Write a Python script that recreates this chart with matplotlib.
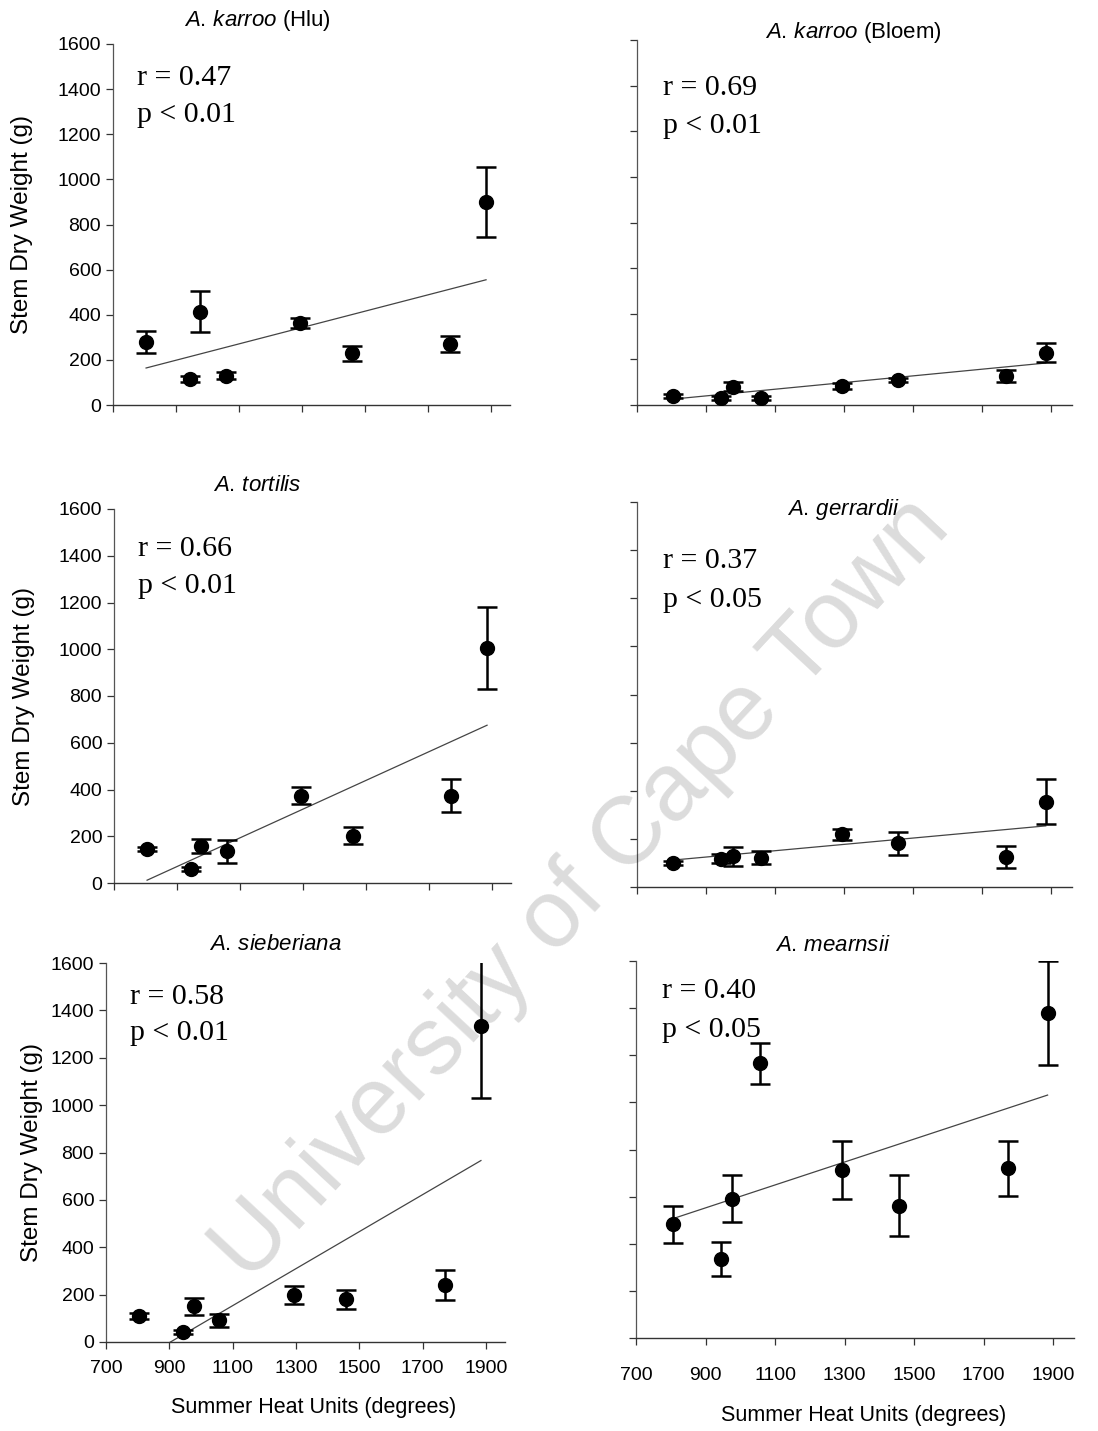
import matplotlib
matplotlib.use("Agg")
import matplotlib.pyplot as plt
import numpy as np

plt.rcParams["font.family"] = ["Liberation Sans", "DejaVu Sans"]
plt.rcParams["mathtext.fontset"] = "custom"
plt.rcParams["mathtext.rm"] = "Liberation Sans"
plt.rcParams["mathtext.it"] = "Liberation Sans:italic"

# Summer heat units of the sites (x values shared by all species)
heat_units = [805, 944, 977, 1058, 1294, 1457, 1770, 1884]

# Stem dry weight (g): mean and error per site, fitted line at first/last site
karroo_hlu_mean = [280, 115, 413, 130, 364, 230, 270, 900]
karroo_hlu_err = [48, 15, 91, 15, 22, 33, 37, 155]
karroo_hlu_fit = [164, 555]

karroo_bloem_mean = [40, 31, 80, 30, 83, 110, 127, 230]
karroo_bloem_err = [8, 10, 20, 10, 15, 8, 25, 40]
karroo_bloem_fit = [26, 184]

tortilis_mean = [145, 60, 160, 135, 374, 203, 374, 1006]
tortilis_err = [10, 10, 30, 48, 38, 38, 69, 175]
tortilis_fit = [12, 675]

gerrardii_mean = [100, 118, 128, 122, 220, 182, 125, 355]
gerrardii_err = [8, 20, 40, 26, 23, 48, 47, 95]
gerrardii_fit = [112, 254]

sieberiana_mean = [110, 42, 151, 91, 197, 180, 239, 1333]
sieberiana_err = [12, 8, 35, 28, 38, 40, 63, 303]
sieberiana_fit = [-77, 766]

mearnsii_mean = [482, 335, 592, 1165, 713, 562, 720, 1380]
mearnsii_err = [80, 73, 98, 85, 123, 130, 118, 222]
mearnsii_fit = [506, 1031]

titles = [
    r"$\mathit{A.\,karroo}$ (Hlu)",
    r"$\mathit{A.\,karroo}$ (Bloem)",
    r"$\mathit{A.\,tortilis}$",
    r"$\mathit{A.\,gerrardii}$",
    r"$\mathit{A.\,sieberiana}$",
    r"$\mathit{A.\,mearnsii}$",
]
r_values = ["0.47", "0.69", "0.66", "0.37", "0.58", "0.40"]
p_values = ["0.01", "0.01", "0.01", "0.05", "0.01", "0.05"]

means = [karroo_hlu_mean, karroo_bloem_mean, tortilis_mean,
         gerrardii_mean, sieberiana_mean, mearnsii_mean]
errs = [karroo_hlu_err, karroo_bloem_err, tortilis_err,
        gerrardii_err, sieberiana_err, mearnsii_err]
fits = [karroo_hlu_fit, karroo_bloem_fit, tortilis_fit,
        gerrardii_fit, sieberiana_fit, mearnsii_fit]

x_ticks = [700, 900, 1100, 1300, 1500, 1700, 1900]
y_ticks = [0, 200, 400, 600, 800, 1000, 1200, 1400, 1600]

# Layout (pixels of a 1098x1431 figure): left, right, top, bottom of each axes
W, H = 1098, 1431
boxes_px = [
    (113, 510, 44, 405),
    (637, 1072, 40, 405),
    (114, 511, 509, 883),
    (637, 1072, 502, 887),
    (106, 505, 963, 1342),
    (636, 1074, 961, 1338),
]
title_pos = [(0.365, 1.066), (0.497, 1.02), (0.36, 1.064), (0.474, 0.98),
             (0.425, 1.048), (0.45, 1.042)]
stats_y = [(0.886, 0.784), (0.85, 0.745), (0.874, 0.775), (0.829, 0.727),
           (0.892, 0.797), (0.902, 0.798)]
ylabel_x_px = [22, None, 24, None, 32, None]
xlabel_y_px = [None, None, None, None, 1407, 1416]

fig = plt.figure(figsize=(W / 100, H / 100), dpi=100)

for i in range(6):
    l, r, t, b = boxes_px[i]
    ax = fig.add_axes([l / W, 1 - b / H, (r - l) / W, (b - t) / H])
    ax.set_facecolor("none")

    # regression line, clipped at y = 0 by the axes
    ax.plot([heat_units[0], heat_units[-1]], fits[i], color="#444444",
            linewidth=0.9, zorder=2)

    ax.errorbar(heat_units, means[i], yerr=errs[i], fmt="o", color="black",
                markersize=10, elinewidth=1.8, capsize=7, capthick=1.8,
                zorder=3)

    ax.set_xlim(700, 1960)
    ax.set_ylim(0, 1600)
    ax.set_xticks(x_ticks)
    ax.set_yticks(y_ticks)
    for side in ["top", "right"]:
        ax.spines[side].set_visible(False)
    ax.spines["left"].set_color("#555555")
    ax.spines["left"].set_linewidth(0.9)
    ax.spines["bottom"].set_color("#333333")
    ax.spines["bottom"].set_linewidth(1.0)
    ax.tick_params(axis="both", direction="out", length=5, width=0.9,
                   colors="#333333", labelcolor="black", labelsize=14)

    left_col = i % 2 == 0
    bottom_row = i >= 4
    if left_col:
        ax.set_ylabel("Stem Dry Weight (g)", fontsize=17.5)
        ax.yaxis.set_label_coords((ylabel_x_px[i] - l) / (r - l), 0.5)
        ax.yaxis.label.set_va("center")
    else:
        ax.set_yticklabels([])
    if bottom_row:
        ax.set_xlabel("Summer Heat Units (degrees)", fontsize=15.5)
        ax.xaxis.set_label_coords(0.52, (b - xlabel_y_px[i]) / (b - t))
        ax.xaxis.label.set_va("center")
        ax.tick_params(axis="x", pad=8 if left_col else 16)
    else:
        ax.set_xticklabels([])

    ax.text(title_pos[i][0], title_pos[i][1], titles[i], transform=ax.transAxes,
            ha="center", va="center", fontsize=16)
    ax.text(0.06, stats_y[i][0], f"r = {r_values[i]}", transform=ax.transAxes,
            family="Liberation Serif", fontsize=21.5, va="baseline")
    ax.text(0.06, stats_y[i][1], f"p < {p_values[i]}", transform=ax.transAxes,
            family="Liberation Serif", fontsize=21.5, va="baseline")

# scanned-thesis watermark
fig.text(0.53, 0.378, "University of Cape Town", fontsize=69, color="black",
         alpha=0.14, rotation=47, ha="center", va="center", zorder=10)

fig.savefig("out.png", dpi=100)
